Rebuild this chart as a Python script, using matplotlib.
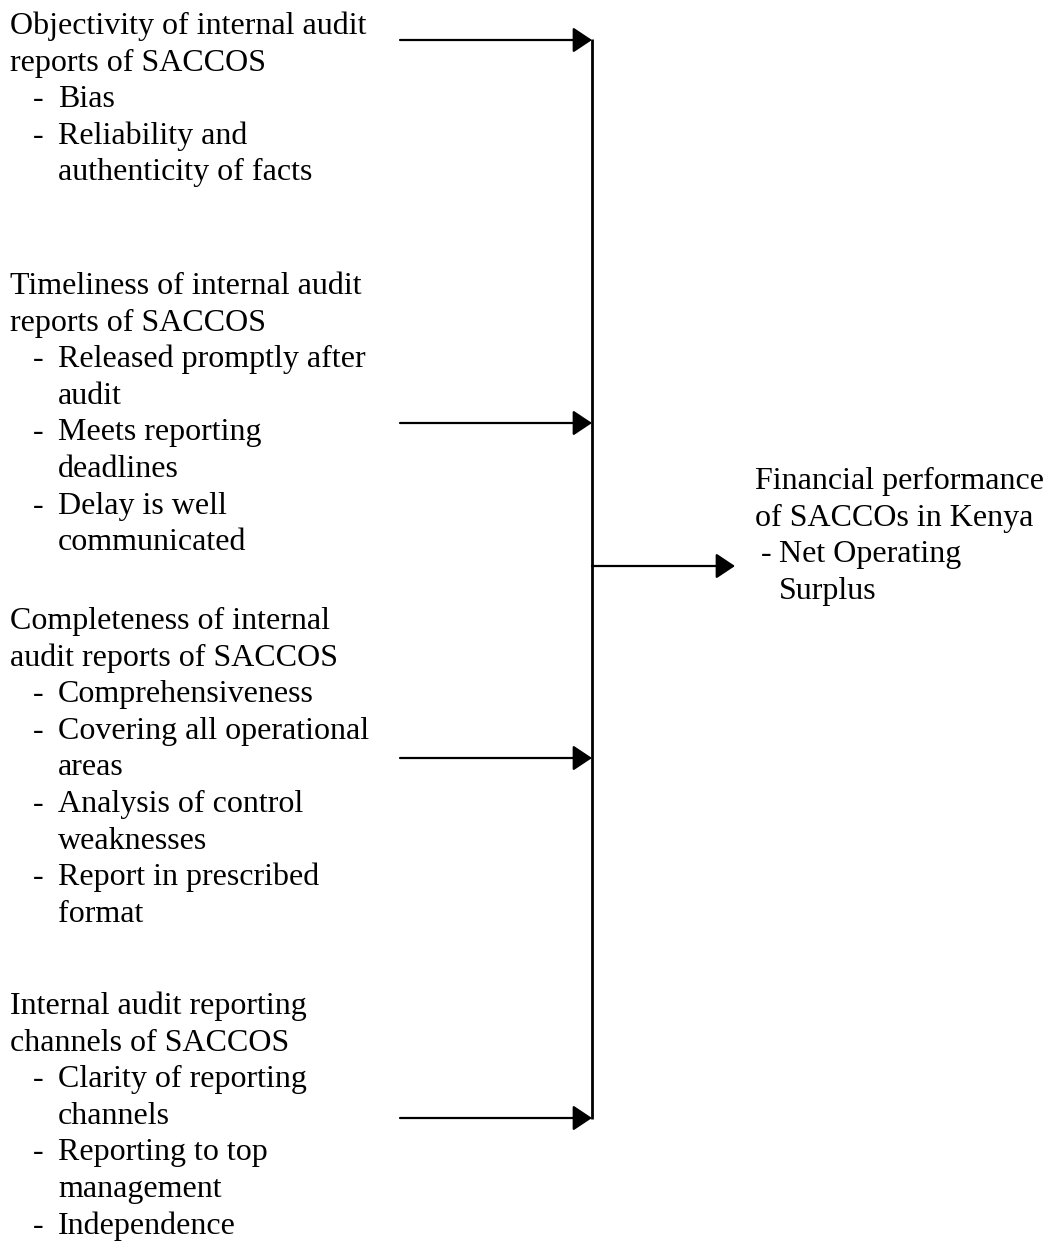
import matplotlib

matplotlib.use("Agg")
import matplotlib.pyplot as plt  # noqa: E402

# -------------------------------
# Diagram content
# -------------------------------
block_titles = [
    ["Objectivity of internal audit", "reports of SACCOS"],
    ["Timeliness of internal audit", "reports of SACCOS"],
    ["Completeness of internal", "audit reports of SACCOS"],
    ["Internal audit reporting", "channels of SACCOS"],
]
block_items = [
    [["Bias"], ["Reliability and", "authenticity of facts"]],
    [["Released promptly after", "audit"], ["Meets reporting", "deadlines"],
     ["Delay is well", "communicated"]],
    [["Comprehensiveness"], ["Covering all operational", "areas"],
     ["Analysis of control", "weaknesses"], ["Report in prescribed", "format"]],
    [["Clarity of reporting", "channels"], ["Reporting to top", "management"],
     ["Independence"]],
]
outcome_title = ["Financial performance", "of SACCOs in Kenya"]
outcome_items = [["Net Operating", "Surplus"]]

# layout (pixels)
W, H = 1047, 1242
block_top = [34, 294, 629, 1014]      # baseline of first line of each block
arrow_y = [40, 423, 758, 1118]
LINE = 36.6
FS = 23
FONT = "Liberation Serif"


def draw_block(ax, x0, y0, title, items, dash_x, item_x):
    y = y0
    for line in title:
        ax.text(x0, y, line, fontsize=FS, family=FONT, va="baseline", ha="left")
        y += LINE
    for item in items:
        ax.text(dash_x, y, "-", fontsize=FS, family=FONT, va="baseline", ha="left")
        for line in item:
            ax.text(item_x, y, line, fontsize=FS, family=FONT, va="baseline", ha="left")
            y += LINE


fig = plt.figure(figsize=(W / 100, H / 100), dpi=100)
ax = fig.add_axes([0, 0, 1, 1])
ax.set_xlim(0, W)
ax.set_ylim(H, 0)
ax.axis("off")

for title, items, y0 in zip(block_titles, block_items, block_top):
    draw_block(ax, 10, y0, title, items, 33, 58)

draw_block(ax, 755, 489, outcome_title, outcome_items, 761, 779)

arrow_kw = dict(arrowstyle="-|>,head_length=0.9,head_width=0.6",
                color="black", lw=1.6, mutation_scale=13,
                shrinkA=0, shrinkB=0)

bar_x = 592
for ya in arrow_y:
    ax.annotate("", xy=(bar_x, ya), xytext=(400, ya), arrowprops=arrow_kw)

ax.plot([bar_x, bar_x], [arrow_y[0] - 1, arrow_y[-1] + 1], color="black", lw=2.0,
        solid_capstyle="butt")

ax.annotate("", xy=(735, 566), xytext=(bar_x, 566), arrowprops=arrow_kw)

fig.savefig("out.png", dpi=100, facecolor="white")
